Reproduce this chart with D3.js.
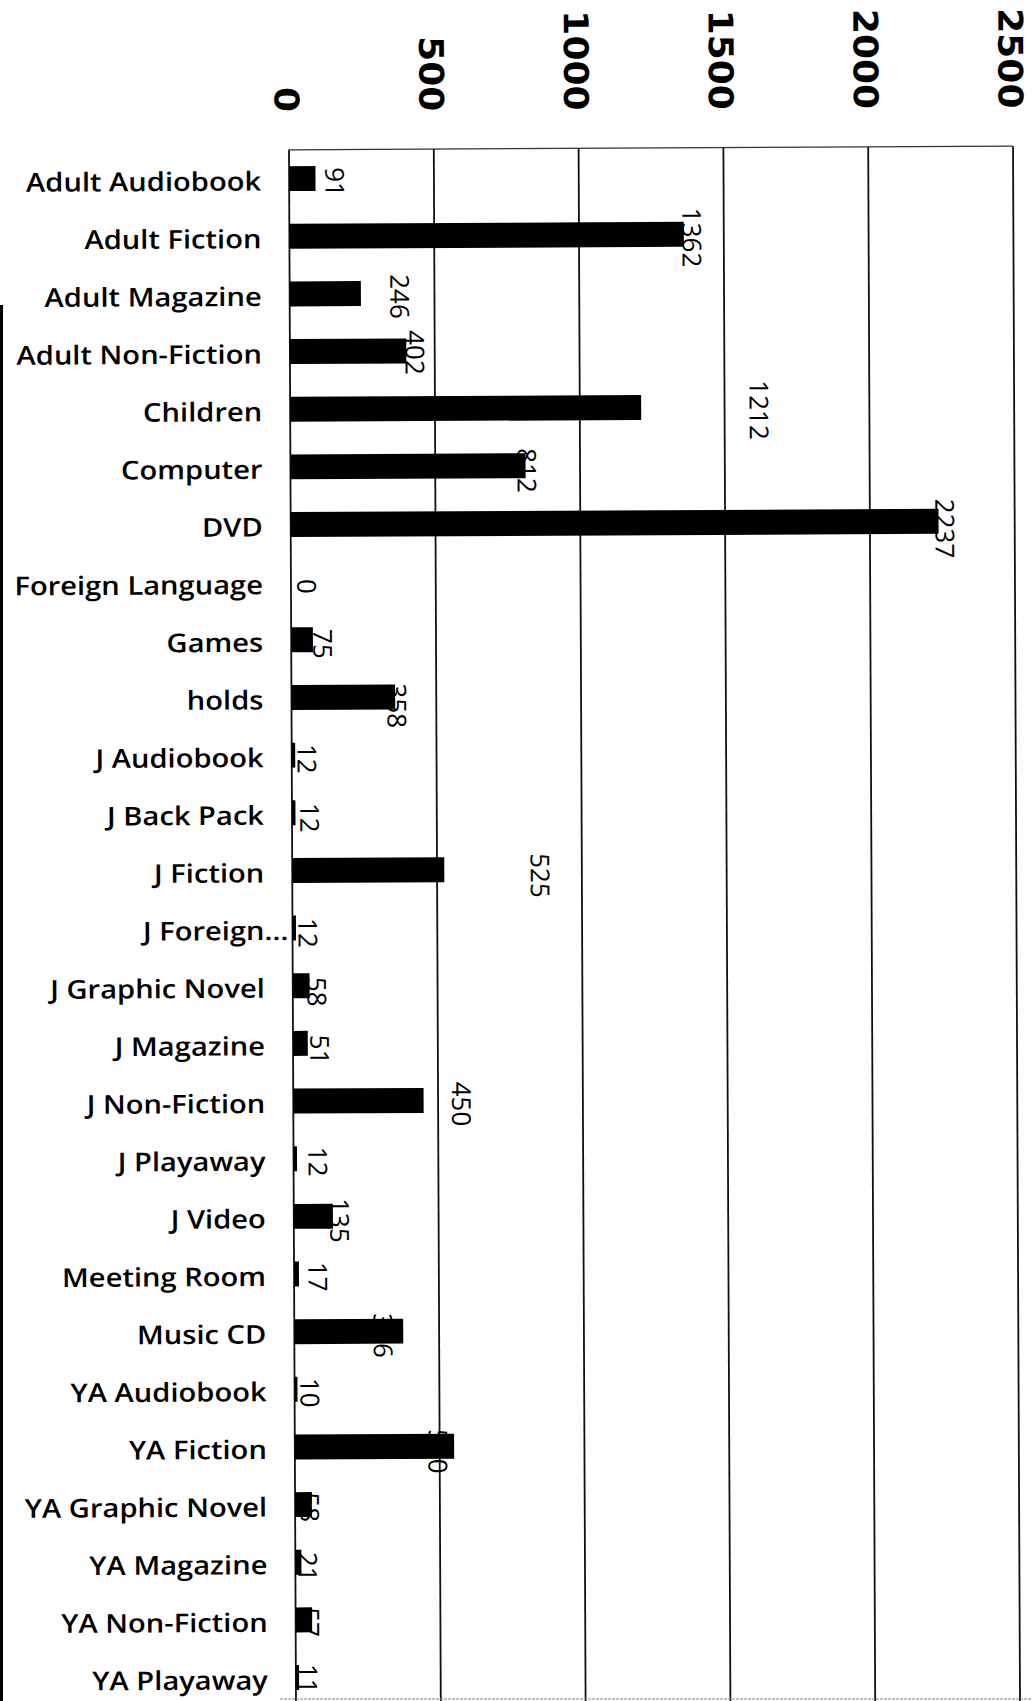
<!DOCTYPE html>
<html>
<head>
<meta charset="utf-8">
<script src="https://cdn.jsdelivr.net/npm/d3@7"></script>
<style>
  html, body { margin: 0; padding: 0; background: #fff; }
  svg { display: block; }
</style>
</head>
<body>
<div id="chart"></div>
<script>
// ---- data ----
const categories = [
  "Adult Audiobook", "Adult Fiction", "Adult Magazine", "Adult Non-Fiction",
  "Children", "Computer", "DVD", "Foreign Language", "Games", "holds",
  "J Audiobook", "J Back Pack", "J Fiction", "J Foreign...", "J Graphic Novel",
  "J Magazine", "J Non-Fiction", "J Playaway", "J Video", "Meeting Room",
  "Music CD", "YA Audiobook", "YA Fiction", "YA Graphic Novel", "YA Magazine",
  "YA Non-Fiction", "YA Playaway"
];
const values = [
  91, 1362, 246, 402, 1212, 812, 2237, 0, 75, 358,
  12, 12, 525, 12, 58, 51, 450, 12, 135, 17,
  376, 10, 550, 58, 21, 57, 11
];
const tickValues = [0, 500, 1000, 1500, 2000, 2500];

// ---- layout (label placement as in the scanned original) ----
const labelDx = [9.5, -1.8, 29, -1.3, 108, -8.6, -3.5, 6, 0, -8, 2, 4.5, 86, 2, -2.6, 2, 28, 11, -3, 9, -30, 2.5, -26, -12, -3.5, -12, -1];
const labelDy = [3.6, 3.2, 3.1, 1.5, 3.1, 4.7, 7.2, 4.2, 4.2, 8.9, 3.7, 5.1, 6.2, 4.8, 6.1, 6.4, 3.7, 3.1, 4.3, 2.8, 4.2, 3.5, 5.1, 2.7, 4.6, 2.4, 1.3];

const W = 1032, H = 1701;
const plotLeft = 289, plotTop = 149.8, plotRight = 1013, plotBottom = 1706.4;
const shearX = 0.0045, shearY = -0.005;

const svg = d3.select("#chart").append("svg")
  .attr("width", W).attr("height", H)
  .attr("viewBox", `0 0 ${W} ${H}`);
svg.append("rect").attr("width", W).attr("height", H).attr("fill", "#fff");

// slight skew of the scanned page
const g = svg.append("g")
  .attr("transform", `matrix(1,${shearY},${shearX},1,${-shearX * 150},${-shearY * 289})`);

const x = d3.scaleLinear().domain([0, 2500]).range([plotLeft, plotRight]);
const y = d3.scaleBand().domain(categories).range([plotTop, plotBottom])
  .paddingInner(0.567).paddingOuter(0.2835);

// top border
g.append("line")
  .attr("x1", plotLeft).attr("x2", plotRight).attr("y1", plotTop).attr("y2", plotTop)
  .attr("stroke", "#333").attr("stroke-width", 1.3);

// gridlines + axis line
g.selectAll("line.grid").data(tickValues).enter().append("line")
  .attr("class", "grid")
  .attr("x1", d => x(d)).attr("x2", d => x(d))
  .attr("y1", plotTop).attr("y2", plotBottom)
  .attr("stroke", "#111").attr("stroke-width", 1.8);

// tick labels (rotated)
g.selectAll("text.tick").data(tickValues).enter().append("text")
  .attr("class", "tick")
  .attr("transform", d => `translate(${x(d) - 2},112) rotate(90) scale(1.06,1)`)
  .attr("text-anchor", "end")
  .attr("dy", "0.36em")
  .attr("font-family", "'DejaVu Sans', sans-serif")
  .attr("font-weight", "bold")
  .attr("font-size", 34)
  .attr("fill", "#000")
  .text(d => d);

// bars
g.selectAll("rect.bar").data(values).enter().append("rect")
  .attr("class", "bar")
  .attr("x", x(0))
  .attr("y", (d, i) => y(categories[i]))
  .attr("width", d => x(d) - x(0))
  .attr("height", y.bandwidth())
  .attr("fill", "#000");

// category labels
const catG = g.selectAll("g.cat").data(categories).enter().append("g")
  .attr("class", "cat")
  .attr("transform", d => `translate(261,${y(d) + y.bandwidth() / 2 + 2.4}) scale(1.12,1)`);
catG.append("text")
  .attr("text-anchor", "end")
  .attr("dy", "0.36em")
  .attr("font-family", "'Open Sans', sans-serif")
  .attr("font-weight", 600)
  .attr("font-size", 26)
  .attr("fill", "#000")
  .text(d => d.endsWith("...") ? d.slice(0, -3) : d);
catG.filter(d => d.endsWith("...")).append("text")
  .attr("text-anchor", "start")
  .attr("dy", "0.36em")
  .attr("font-family", "'Open Sans', sans-serif")
  .attr("font-weight", 600)
  .attr("font-size", 26)
  .attr("fill", "#000")
  .text("...");

// data labels (rotated)
g.selectAll("text.val").data(values).enter().append("text")
  .attr("class", "val")
  .attr("transform", (d, i) => {
    const cx = x(d) + labelDx[i] + 9.5;
    const cy = y(categories[i]) + y.bandwidth() / 2 + labelDy[i];
    return `translate(${cx},${cy}) rotate(90)`;
  })
  .attr("text-anchor", "middle")
  .attr("dy", "0.35em")
  .attr("font-family", "'Open Sans', sans-serif")
  .attr("font-size", 26)
  .attr("fill", "#000")
  .text(d => d);

// scan artefacts: bottom edge line and dark left margin
svg.append("line")
  .attr("x1", 280).attr("x2", W).attr("y1", 1699).attr("y2", 1699)
  .attr("stroke", "#888").attr("stroke-width", 1).attr("stroke-dasharray", "3,1");
svg.append("rect").attr("x", 0).attr("y", 305).attr("width", 3).attr("height", H - 305).attr("fill", "#000");
</script>
</body>
</html>
